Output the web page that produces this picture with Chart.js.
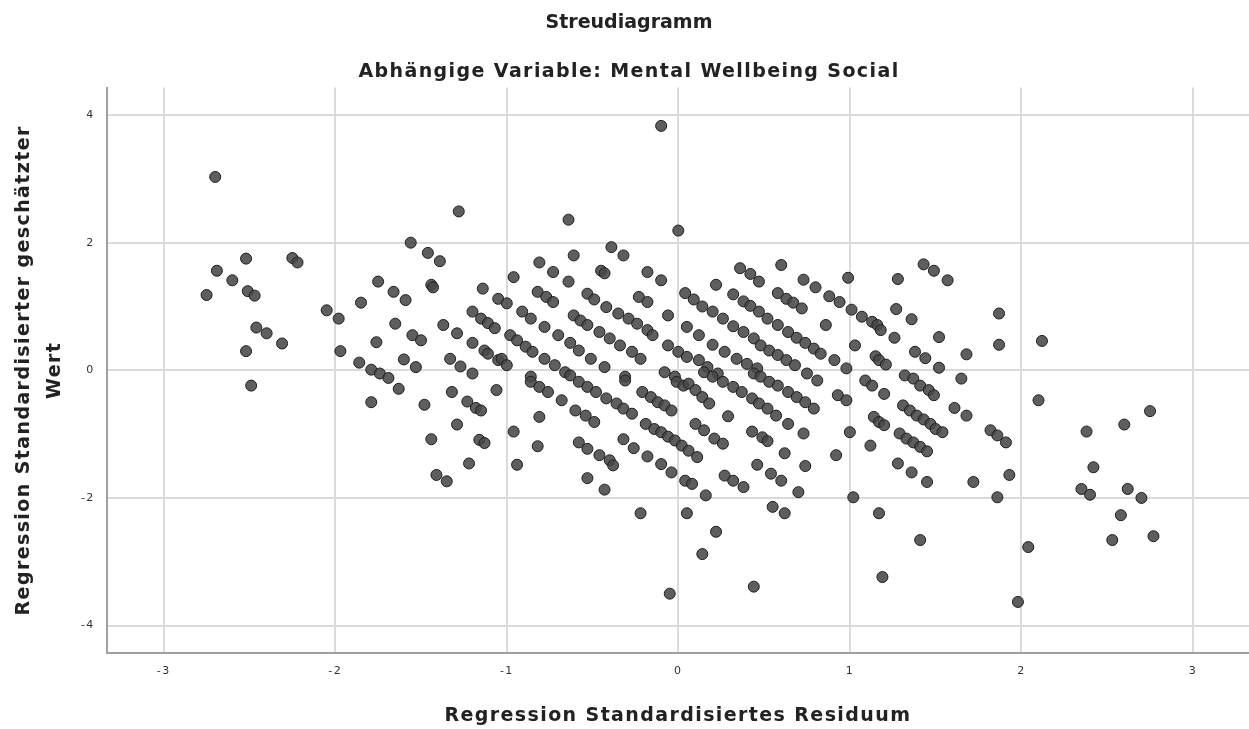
<!DOCTYPE html>
<html>
<head>
<meta charset="utf-8">
<script src="https://cdn.jsdelivr.net/npm/chart.js@4.4.0/dist/chart.umd.min.js"></script>
<style>
  body { margin: 0; background: #fff; }
  #wrap { width: 1249px; height: 729px; }
</style>
</head>
<body>
<div id="wrap"><canvas id="chart" width="1249" height="729"></canvas></div>
<script>
// Regression Standardisiertes Residuum (x) / Standardisierter geschätzter Wert (y)
const residual = [
  -2.70,-2.52,-2.25,-2.22,-2.69,-2.60,-2.75,-2.51,-2.47,-2.46,-2.40,-2.31,-2.52,-2.49,
  -1.28,-1.56,-1.46,-1.39,-1.75,-1.66,-1.59,-1.85,-1.44,-1.43,-1.14,-1.05,-2.05,-1.98,-1.65,-1.76,-1.97,-1.86,-1.79,-1.74,-1.69,
  -1.55,-1.50,-1.60,-1.53,-1.37,-1.29,-1.33,-1.27,-1.20,-1.20,-1.15,-1.11,-1.07,-1.20,-1.13,-1.11,-1.05,
  -1.63,-1.79,-1.48,-1.44,-1.41,-1.35,-1.32,-1.29,-1.23,-1.18,-1.15,-1.16,-1.13,-1.22,-1.06,
  -0.10,-0.64,0.00,-0.39,-0.32,-0.61,-0.81,-0.73,-0.96,-0.64,-0.45,-0.43,-0.18,-0.10,-0.23,-0.18,-0.06,0.05,
  -1.00,-0.82,-0.77,-0.73,-0.53,-0.49,-0.42,-0.35,-0.29,-0.24,-0.18,-0.15,-0.91,-0.86,-0.78,-0.61,-0.57,-0.53,
  -0.98,-0.94,-0.89,-0.85,-0.70,-0.63,-0.58,-0.46,-0.40,-0.34,-0.27,-0.22,-0.06,0.00,0.05,
  -1.03,-1.00,-0.78,-0.72,-0.66,-0.51,-0.43,-0.86,-0.31,-0.08,-0.02,
  -0.86,-0.81,-0.76,-0.68,-0.63,-0.58,-0.53,-0.48,-0.31,-0.42,-0.36,-0.32,-0.27,-0.60,-0.54,-0.49,-0.81,
  -0.21,-0.16,-0.12,-0.08,-0.04,-0.01,0.03,-0.96,-0.82,-0.94,-0.58,-0.53,-0.46,-0.40,-0.38,-0.53,-0.43,
  -0.32,-0.26,-0.18,-0.10,-0.04,0.04,-0.19,-0.14,-0.10,-0.06,-0.02,0.02,0.06,-0.22,0.05,-0.05,
  0.60,0.99,0.36,0.42,0.47,0.22,0.73,0.80,0.88,0.94,1.01,1.07,1.13,0.58,0.63,0.67,0.72,0.86,
  0.04,0.09,0.14,0.20,0.26,0.32,0.32,0.38,0.42,0.47,0.52,0.58,0.64,0.69,0.74,0.79,0.83,
  0.12,0.20,0.27,0.34,0.40,0.46,0.38,0.44,0.48,0.53,0.58,0.63,0.68,0.12,0.17,0.23,0.91,0.98,1.03,1.15,
  0.06,0.10,0.14,0.18,0.15,0.20,0.26,0.32,0.37,0.43,0.47,0.52,0.57,0.44,0.48,0.53,0.58,0.64,0.69,0.74,0.79,
  0.75,0.81,0.93,0.98,0.29,0.10,0.15,0.21,0.26,0.11,0.08,0.16,0.22,0.14,0.44,0.43,0.49,0.52,0.64,0.73,
  0.46,0.62,0.27,0.32,0.38,0.54,0.60,0.74,0.70,0.55,0.62,0.92,1.00,1.02,1.12,1.17,1.19,1.09,1.13,1.14,1.17,
  1.43,1.49,1.57,1.28,1.27,1.36,1.16,1.18,1.26,1.52,1.87,1.87,2.12,1.38,1.44,1.68,1.52,1.17,1.21,1.32,1.37,1.65,
  1.41,1.46,1.49,1.20,1.31,1.35,1.39,1.43,1.47,1.50,1.54,1.61,1.68,1.20,1.29,1.33,1.37,1.41,1.45,
  1.82,1.86,1.91,1.28,1.36,1.45,1.72,1.93,1.86,2.10,1.41,2.04,1.98,
  2.75,2.60,2.38,2.42,2.35,2.40,2.62,2.70,2.58,2.53,2.77
];
const predicted = [
  3.03,1.75,1.76,1.69,1.56,1.41,1.18,1.24,1.17,0.67,0.58,0.42,0.30,-0.24,
  2.49,2.00,1.84,1.71,1.39,1.23,1.10,1.06,1.34,1.30,1.28,1.12,0.94,0.81,0.73,0.44,0.30,0.12,0.01,-0.05,-0.12,
  0.55,0.47,0.17,0.05,0.71,0.58,0.18,0.06,-0.05,0.92,0.81,0.74,0.66,0.43,0.31,0.26,0.16,
  -0.29,-0.50,-0.54,-1.08,-1.64,-1.74,-0.34,-0.85,-0.49,-0.59,-0.63,-1.09,-1.14,-1.46,-0.31,
  3.83,2.36,2.19,1.93,1.80,1.80,1.69,1.54,1.46,1.39,1.56,1.52,1.54,1.41,1.15,1.07,0.86,0.68,
  1.05,1.23,1.15,1.07,1.20,1.11,0.99,0.89,0.81,0.73,0.63,0.55,0.92,0.81,0.68,0.86,0.78,0.71,
  0.55,0.47,0.37,0.29,0.55,0.43,0.31,0.60,0.50,0.39,0.29,0.18,0.39,0.29,0.21,
  0.18,0.08,0.18,0.08,-0.03,0.18,0.05,-0.10,-0.10,-0.03,-0.10,
  -0.18,-0.26,-0.34,-0.47,-0.08,-0.18,-0.26,-0.34,-0.16,-0.44,-0.52,-0.60,-0.68,-0.63,-0.71,-0.81,-0.73,
  -0.34,-0.42,-0.50,-0.55,-0.63,-0.18,-0.24,-0.96,-1.19,-1.48,-1.13,-1.23,-1.33,-1.41,-1.49,-1.69,-1.87,
  -1.08,-1.22,-1.35,-1.47,-1.60,-1.73,-0.84,-0.92,-0.97,-1.04,-1.10,-1.18,-1.26,-2.24,-2.24,-3.50,
  1.65,1.45,1.60,1.51,1.39,1.34,1.42,1.30,1.16,1.07,0.95,0.84,0.76,1.21,1.12,1.06,0.97,0.71,
  1.21,1.11,1.00,0.92,0.81,0.69,1.19,1.08,1.01,0.92,0.81,0.71,0.60,0.51,0.43,0.34,0.26,
  0.55,0.40,0.29,0.18,0.10,0.03,0.60,0.50,0.39,0.31,0.24,0.16,0.08,0.16,0.05,-0.05,0.16,0.03,0.39,0.22,
  -0.21,-0.31,-0.42,-0.52,-0.03,-0.10,-0.18,-0.26,-0.34,-0.44,-0.52,-0.60,-0.71,-0.05,-0.10,-0.18,-0.24,-0.34,-0.42,-0.50,-0.60,
  -0.05,-0.16,-0.39,-0.47,-0.72,-0.84,-0.94,-1.07,-1.15,-1.36,-1.78,-1.96,-2.53,-2.88,-3.39,-0.96,-1.05,-1.11,-0.84,-0.99,
  -1.48,-1.30,-1.65,-1.73,-1.83,-1.62,-1.73,-1.50,-1.91,-2.14,-2.24,-1.33,-0.97,-1.99,-1.18,-2.24,-3.24,-0.16,-0.24,-0.73,-0.81,
  1.66,1.56,1.41,1.43,0.96,0.80,0.71,0.63,0.51,0.52,0.89,0.40,0.46,0.29,0.19,0.25,0.04,0.16,0.09,-0.08,-0.13,-0.13,
  -0.24,-0.31,-0.39,-0.37,-0.55,-0.63,-0.71,-0.77,-0.84,-0.92,-0.97,-0.59,-0.71,-0.86,-0.99,-1.07,-1.13,-1.20,-1.27,
  -0.94,-1.02,-1.13,-1.46,-1.60,-1.75,-1.75,-1.64,-1.99,-0.47,-2.66,-2.77,-3.63,
  -0.64,-0.85,-0.96,-1.52,-1.86,-1.95,-1.86,-2.00,-2.27,-2.66,-2.60
];

const xTitle = 'Regression Standardisiertes Residuum';
const yTitle = ['Regression Standardisierter geschätzter', 'Wert'];
const mainTitle = 'Streudiagramm';
const subTitle = 'Abhängige Variable: Mental Wellbeing Social';

const points = residual.map((x, i) => ({ x: x, y: predicted[i] }));

const titleFont = { family: 'DejaVu Sans', size: 19, weight: 'bold' };
const tickFont = { family: 'DejaVu Sans', size: 11 };

// no extra room for the edge tick labels, the plot runs to the canvas edge
function noEdgePadding(scale) {
  scale.paddingLeft = 0;
  scale.paddingRight = 0;
  scale.paddingTop = 0;
  scale.paddingBottom = 0;
}

// SPSS text is a bit wider set than DejaVu (main title stays unspaced)
const spacing = {
  id: 'spacing',
  beforeDraw(chart) {
    const ctx = chart.ctx;
    ctx.letterSpacing = '1.4px';
    const tb = chart.titleBlock;
    if (tb && !tb._unspaced) {
      const orig = tb.draw.bind(tb);
      tb.draw = function() {
        const ls = ctx.letterSpacing;
        ctx.letterSpacing = '0px';
        orig();
        ctx.letterSpacing = ls;
      };
      tb._unspaced = true;
    }
  },
  afterDraw(chart) { chart.ctx.letterSpacing = '0px'; }
};

new Chart(document.getElementById('chart'), {
  type: 'scatter',
  data: {
    datasets: [{
      data: points,
      pointRadius: 5.5,
      pointHoverRadius: 5.5,
      backgroundColor: 'rgba(72,72,72,0.88)',
      borderColor: '#1e1e1e',
      borderWidth: 1
    }]
  },
  plugins: [spacing],
  options: {
    responsive: false,
    animation: false,
    layout: { autoPadding: false, padding: { left: 9, right: 0, top: 0, bottom: 2 } },
    plugins: {
      legend: { display: false },
      tooltip: { enabled: false },
      title: {
        display: true, text: mainTitle, color: '#222', font: titleFont,
        padding: { top: 12, bottom: 26 }
      },
      subtitle: {
        display: true, text: subTitle, color: '#222', font: titleFont,
        padding: { top: 0, bottom: 4 }
      }
    },
    scales: {
      x: {
        type: 'linear', min: -3.332, max: 3.327,
        afterFit: noEdgePadding,
        ticks: { stepSize: 1, includeBounds: false, font: tickFont, color: '#333', padding: 12 },
        grid: { color: '#dadada', lineWidth: 2, drawTicks: false },
        border: { color: '#a0a0a0', width: 2 },
        title: { display: true, text: xTitle, color: '#222', font: titleFont, padding: { top: 14, bottom: 0 } }
      },
      y: {
        type: 'linear', min: -4.43, max: 4.43,
        afterFit: noEdgePadding,
        ticks: { stepSize: 2, includeBounds: false, font: tickFont, color: '#333', padding: 12 },
        grid: { color: '#dadada', lineWidth: 2, drawTicks: false },
        border: { color: '#a0a0a0', width: 2 },
        title: {
          display: true, text: yTitle, color: '#222',
          font: { family: 'DejaVu Sans', size: 19, weight: 'bold', lineHeight: 1.6 },
          padding: { top: 0, bottom: 2 }
        }
      }
    }
  }
});
</script>
</body>
</html>
